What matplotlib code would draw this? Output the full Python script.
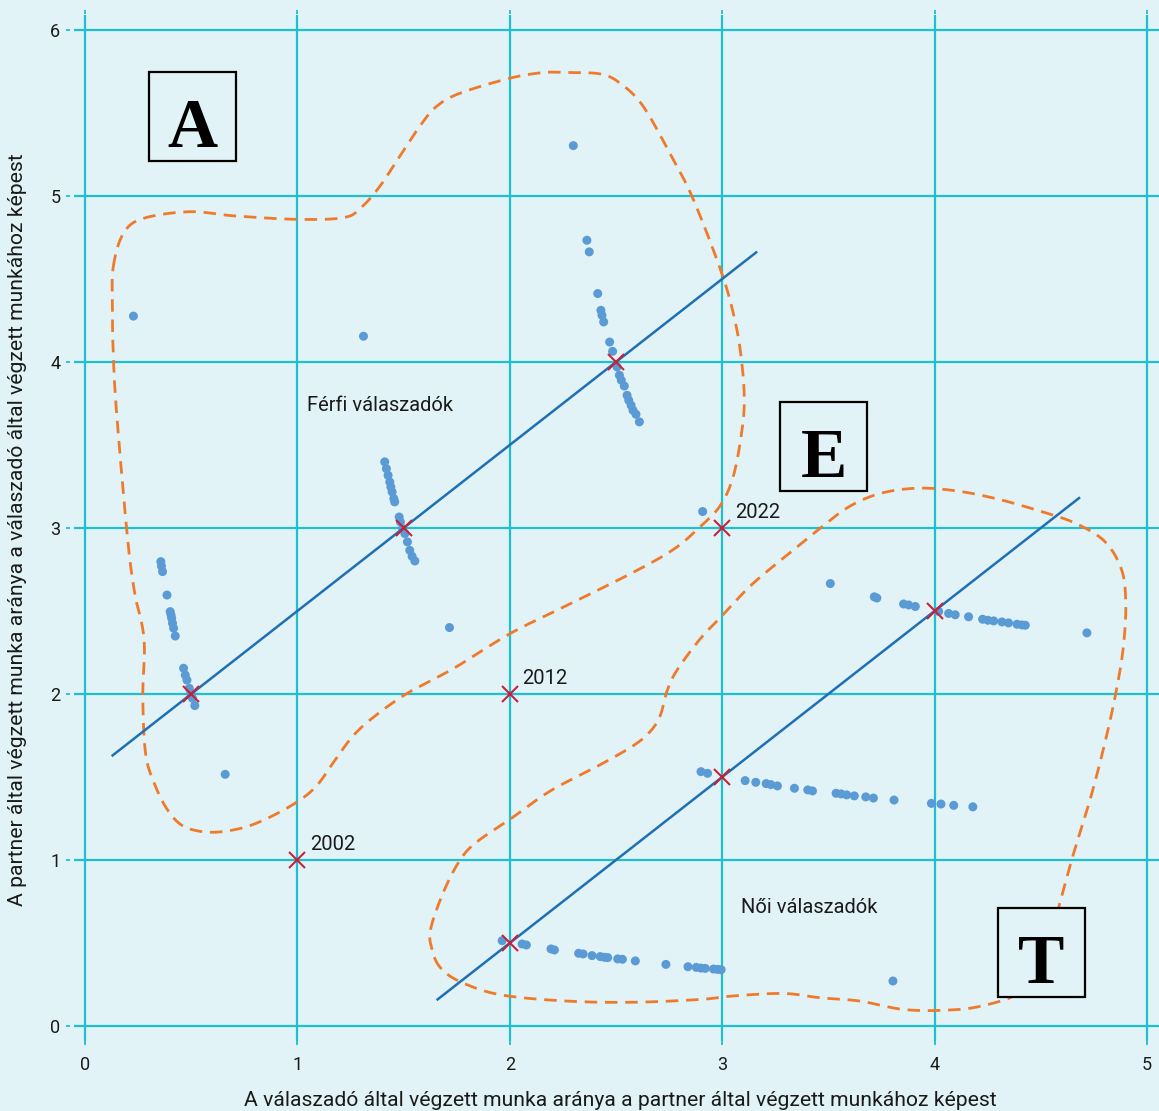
import numpy as np
import matplotlib
matplotlib.use("Agg")
import matplotlib.pyplot as plt
from matplotlib.patches import Rectangle

# ---------------- data ----------------
x_ticks = [0, 1, 2, 3, 4, 5]
y_ticks = [0, 1, 2, 3, 4, 5, 6]

male_x = [0.357, 0.360, 0.365, 0.386, 0.401, 0.405, 0.408, 0.412, 0.417, 0.425,
          0.464, 0.472, 0.480, 0.491, 0.498, 0.506, 0.517,
          1.411, 1.419, 1.427, 1.435, 1.440, 1.446, 1.454, 1.458, 1.479, 1.485,
          1.495, 1.506, 1.518, 1.529, 1.540, 1.553,
          2.363, 2.374, 2.414, 2.429, 2.434, 2.442, 2.470, 2.484, 2.505, 2.516,
          2.525, 2.539, 2.552, 2.560, 2.571, 2.580, 2.594, 2.610,
          0.228, 1.311, 0.660, 1.716, 2.299, 2.908]
male_y = [2.797, 2.770, 2.737, 2.596, 2.496, 2.476, 2.456, 2.426, 2.396, 2.349,
          2.155, 2.114, 2.084, 2.034, 2.004, 1.974, 1.930,
          3.398, 3.357, 3.317, 3.277, 3.247, 3.217, 3.177, 3.157, 3.066, 3.036,
          2.996, 2.966, 2.916, 2.865, 2.829, 2.801,
          4.733, 4.663, 4.412, 4.311, 4.281, 4.241, 4.120, 4.064, 3.970, 3.920,
          3.890, 3.855, 3.799, 3.769, 3.739, 3.709, 3.685, 3.639,
          4.276, 4.155, 1.516, 2.400, 5.303, 3.099]

female_x = [3.509, 3.716, 3.728, 3.854, 3.878, 3.909, 4.019, 4.066, 4.097, 4.160,
            4.226, 4.251, 4.278, 4.317, 4.348, 4.388, 4.411, 4.427, 4.717,
            2.900, 2.931, 3.108, 3.158, 3.207, 3.229, 3.260, 3.340, 3.403, 3.425,
            3.536, 3.560, 3.586, 3.622, 3.676, 3.712, 3.809, 3.985, 4.030, 4.090, 4.180,
            1.964, 2.058, 2.078, 2.194, 2.210, 2.324, 2.345, 2.387, 2.426, 2.445,
            2.461, 2.508, 2.530, 2.591, 2.735, 2.839, 2.878, 2.900, 2.920, 2.959,
            2.978, 2.995, 3.804]
female_y = [2.665, 2.585, 2.578, 2.542, 2.536, 2.527, 2.497, 2.485, 2.477, 2.465,
            2.450, 2.444, 2.440, 2.434, 2.428, 2.420, 2.416, 2.414, 2.368,
            1.532, 1.522, 1.478, 1.468, 1.460, 1.454, 1.446, 1.432, 1.422, 1.416,
            1.402, 1.398, 1.392, 1.386, 1.380, 1.373, 1.361, 1.341, 1.337, 1.329, 1.320,
            0.514, 0.494, 0.488, 0.464, 0.458, 0.438, 0.434, 0.424, 0.418, 0.414,
            0.412, 0.404, 0.402, 0.392, 0.371, 0.357, 0.353, 0.349, 0.347, 0.343,
            0.341, 0.339, 0.271]

# trend lines (slope 1): y = x + 1.5 (men), y = x - 1.5 (women)
male_line_x = [0.13, 3.16]
male_line_y = [1.63, 4.66]
female_line_x = [1.66, 4.68]
female_line_y = [0.16, 3.18]

# reference marks (x) and year labels
mark_x = [0.5, 1.5, 2.5, 1, 2, 3, 2, 3, 4]
mark_y = [2, 3, 4, 1, 2, 3, 0.5, 1.5, 2.5]
year_labels = ["2002", "2012", "2022"]
year_x = [1, 2, 3]
year_y = [1, 2, 3]

# outline control points of the dashed regions
male_hull_x = [0.133, 0.181, 0.275, 0.494, 0.700, 0.997, 1.217, 1.300, 1.387, 1.481,
               1.575, 1.654, 1.764, 2.000, 2.157, 2.267, 2.425, 2.519, 2.629, 2.770,
               2.865, 2.998, 3.060, 3.091, 3.104, 3.091, 3.052, 2.991, 2.897, 2.771,
               2.583, 2.270, 2.003, 1.737, 1.517, 1.361, 1.266, 1.188, 1.094, 1.000,
               0.859, 0.734, 0.592, 0.467, 0.389, 0.326, 0.285, 0.272, 0.280, 0.268,
               0.235, 0.201, 0.149, 0.133, 0.129]
male_hull_y = [4.573, 4.775, 4.865, 4.905, 4.880, 4.859, 4.869, 4.930, 5.056, 5.237,
               5.418, 5.538, 5.618, 5.709, 5.743, 5.743, 5.735, 5.679, 5.538, 5.217,
               4.976, 4.534, 4.250, 4.010, 3.770, 3.570, 3.310, 3.135, 3.008, 2.871,
               2.734, 2.534, 2.365, 2.155, 2.004, 1.863, 1.753, 1.622, 1.452, 1.351,
               1.251, 1.191, 1.167, 1.201, 1.301, 1.462, 1.643, 1.984, 2.265, 2.420,
               2.600, 2.928, 3.688, 4.050, 4.332]

female_hull_x = [1.674, 1.635, 1.627, 1.690, 1.768, 1.846, 2.003, 2.191, 2.426, 2.583,
                 2.661, 2.708, 2.740, 2.787, 2.897, 2.991, 3.132, 3.288, 3.461, 3.600,
                 3.750, 3.930, 4.120, 4.310, 4.500, 4.660, 4.800, 4.880, 4.900, 4.890,
                 4.860, 4.810, 4.740, 4.650, 4.570, 4.500, 4.400, 4.220, 4.050, 3.850,
                 3.650, 3.461, 3.288, 3.053, 2.897, 2.583, 2.270, 1.956, 1.768]
female_hull_y = [0.350, 0.456, 0.582, 0.814, 1.004, 1.110, 1.247, 1.416, 1.574, 1.690,
                 1.774, 1.869, 2.017, 2.143, 2.333, 2.460, 2.650, 2.819, 2.998, 3.130,
                 3.210, 3.240, 3.220, 3.170, 3.100, 3.030, 2.920, 2.750, 2.550, 2.300,
                 2.050, 1.750, 1.400, 1.020, 0.650, 0.360, 0.200, 0.120, 0.095, 0.100,
                 0.150, 0.170, 0.196, 0.181, 0.160, 0.143, 0.150, 0.188, 0.266]

group_labels = ["Férfi válaszadók", "Női válaszadók"]
group_label_x = [1.045, 3.089]
group_label_y = [3.735, 0.715]

box_letters = ["A", "E", "T"]
box_cx = [0.506, 3.477, 4.501]
box_cy = [5.479, 3.488, 0.443]

x_label = "A válaszadó által végzett munka aránya a partner által végzett munkához képest"
y_label = "A partner által végzett munka aránya a válaszadó által végzett munkához képest"

# ---------------- style ----------------
BG = "#e1f3f6"
GRID = "#1fbfd0"
LINE = "#1f6fb6"
DOT = "#5b9bd5"
RED = "#c8223a"
ORANGE = "#f07a2c"
TXT = "#1a1a1a"

plt.rcParams['font.family'] = ['Roboto', 'DejaVu Sans']


def closed_spline(px, py, n=30):
    p = np.column_stack([px, py])
    m = len(p)
    out = []
    for i in range(m):
        p0, p1, p2, p3 = p[(i - 1) % m], p[i], p[(i + 1) % m], p[(i + 2) % m]
        t = np.linspace(0, 1, n, endpoint=False)[:, None]
        seg = 0.5 * ((2 * p1) + (-p0 + p2) * t + (2 * p0 - 5 * p1 + 4 * p2 - p3) * t ** 2
                     + (-p0 + 3 * p1 - 3 * p2 + p3) * t ** 3)
        out.append(seg)
    out = np.vstack(out + [out[0][:1]])
    return out[:, 0], out[:, 1]


W, H = 1159, 1111
fig = plt.figure(figsize=(W / 100, H / 100), dpi=100, facecolor=BG)
ax = fig.add_axes([66 / W, 1 - 1045 / H, 1 - 66 / W, (1045 - 10) / H])
ax.set_facecolor(BG)
ax.set_xlim(-0.0895, 5.0565)
ax.set_ylim(-0.1145, 6.12)
for s in ax.spines.values():
    s.set_visible(False)

# grid
ax.hlines(y_ticks, -0.05, 5.0565, color=GRID, lw=1.6, zorder=1)
ax.vlines(x_ticks, -0.09, 6.09, color=GRID, lw=1.6, zorder=1)

ax.set_xticks(x_ticks)
ax.set_yticks(y_ticks)
ax.tick_params(axis='both', direction='in', length=3, width=1.3, color=GRID,
               labelsize=13, labelcolor=TXT)
ax.tick_params(axis='x', top=True, pad=8)
ax.tick_params(axis='y', pad=4)

# dashed regions
for hx, hy in [(male_hull_x, male_hull_y), (female_hull_x, female_hull_y)]:
    sx, sy = closed_spline(hx, hy)
    ax.plot(sx, sy, color=ORANGE, lw=2.0, dashes=(4.5, 2.8), zorder=2)

# points
ax.scatter(male_x, male_y, s=42, color=DOT, edgecolors='none', zorder=3)
ax.scatter(female_x, female_y, s=42, color=DOT, edgecolors='none', zorder=3)

# trend lines
ax.plot(male_line_x, male_line_y, color=LINE, lw=1.8, zorder=4)
ax.plot(female_line_x, female_line_y, color=LINE, lw=1.8, zorder=4)

# x marks
ax.plot(mark_x, mark_y, linestyle='none', marker='x', ms=11, mew=1.5, color=RED, zorder=5)

for lab, xx, yy in zip(year_labels, year_x, year_y):
    ax.annotate(lab, xy=(xx, yy), xytext=(9, 11), textcoords='offset points',
                ha='left', va='center', fontsize=14.5, color=TXT, zorder=6)

for lab, xx, yy in zip(group_labels, group_label_x, group_label_y):
    ax.text(xx, yy, lab, ha='left', va='center', fontsize=14.5, color=TXT, zorder=6)

# letter boxes
bw, bh = 87 / 212.4, 89 / 166
for letter, cx, cy in zip(box_letters, box_cx, box_cy):
    ax.add_patch(Rectangle((cx - bw / 2, cy - bh / 2), bw, bh, facecolor=BG,
                           edgecolor='black', lw=1.6, zorder=6))
    ax.text(cx, cy - bh / 2 + 14 / 166, letter, ha='center', va='baseline',
            fontsize=50, fontweight='bold', family=['Liberation Serif', 'DejaVu Serif'],
            color='black', zorder=7)

fig.text(620 / W, 1 - 1100 / H, x_label, ha='center', va='center', fontsize=15.2,
         color=TXT)
fig.text(18 / W, 1 - 530 / H, y_label, ha='center', va='center', rotation=90,
         fontsize=15.2, color=TXT)

fig.savefig("out.png", dpi=100, facecolor=BG)
